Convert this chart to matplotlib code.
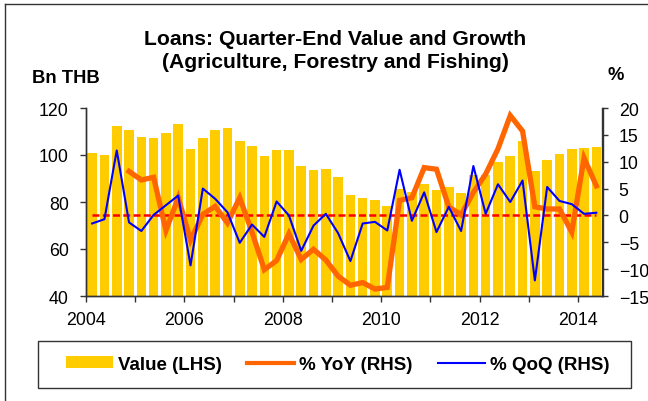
import matplotlib
matplotlib.use("Agg")
import matplotlib.pyplot as plt
from matplotlib.lines import Line2D
from matplotlib.patches import Patch, Rectangle

plt.rcParams['font.family'] = ['Liberation Sans', 'DejaVu Sans']

# quarterly categories, 2004Q1 .. 2014Q2
quarters = [f"{y}Q{q}" for y in range(2004, 2015) for q in range(1, 5)][:42]
year_labels = ['2004', '2006', '2008', '2010', '2012', '2014']

# loans outstanding, Bn THB (LHS)
value = [100.9, 100.1, 112.2, 110.8, 107.5, 107.4, 109.2, 113.0, 102.7, 107.4,
         110.8, 111.5, 105.8, 104.0, 99.7, 102.3, 102.1, 95.5, 93.6, 93.9,
         90.6, 83.0, 81.8, 81.0, 78.4, 85.4, 84.3, 87.8, 85.2, 86.4,
         83.8, 91.6, 91.6, 97.1, 99.4, 105.8, 93.2, 98.0, 100.6, 102.5,
         102.8, 103.4]

# % YoY (RHS), first three quarters not available
yoy = [None, None, None, 8.2, 6.6, 7.1, -2.8, 3.3, -4.6, 0.2,
       1.7, -1.4, 3.3, -3.1, -10.1, -8.4, -3.4, -8.2, -6.3, -8.3,
       -11.3, -13.0, -12.5, -13.7, -13.4, 2.8, 3.3, 8.9, 8.6, 1.6,
       0.1, 4.3, 7.7, 12.4, 18.6, 15.7, 1.6, 1.2, 1.2, -3.1,
       10.7, 5.5]

# % QoQ (RHS)
qoq = [-1.5, -0.7, 12.1, -1.3, -2.9, 0.1, 1.9, 3.7, -9.3, 5.0,
       3.1, 0.6, -5.1, -1.7, -4.0, 2.6, 0.0, -6.6, -1.9, 0.3,
       -3.3, -8.5, -1.5, -1.2, -2.8, 8.5, -1.0, 4.3, -3.1, 1.6,
       -2.9, 9.2, 0.3, 5.8, 2.5, 6.5, -12.1, 5.3, 2.7, 2.1,
       0.3, 0.5]

x = [i + 0.5 for i in range(len(quarters))]
zero = [0] * len(quarters)

W, H = 648, 402
fig = plt.figure(figsize=(W / 100, H / 100), dpi=100)
ax = fig.add_axes([86 / W, 105 / H, (602.5 - 86) / W, 188 / H])
ax2 = ax.twinx()

ax.bar(x, value, width=0.78, color='#FFCC00', zorder=2)
ax.set_xlim(0, len(quarters))
ax.set_ylim(40, 120)
ax.set_yticks([40, 60, 80, 100, 120])

ax2.plot(x, zero, color='#FF0000', lw=1.8, ls=(0, (2.8, 1.3)))
ax2.plot(x, yoy, color='#FF6600', lw=3.8, solid_joinstyle='miter')
ax2.plot(x, qoq, color='#0000FF', lw=1.5)
ax2.set_ylim(-15, 20)
ax2.set_yticks(range(-15, 21, 5))

ax.set_xticks(range(0, 41, 4))
ax.set_xticklabels([year_labels[k // 2] if k % 2 == 0 else '' for k in range(11)])

fs = 12.8
spine_col = '#333333'
for a in (ax, ax2):
    a.spines['top'].set_visible(False)
    for s in ('left', 'right', 'bottom'):
        a.spines[s].set_color(spine_col)
        a.spines[s].set_linewidth(1.0)
    a.tick_params(direction='out', length=4.5, width=1.0, color=spine_col,
                  labelsize=fs, labelcolor='black')
ax.tick_params(axis='y', pad=8)
ax.tick_params(axis='x', pad=6)
ax2.tick_params(axis='y', pad=7.2)

title_font = dict(fontsize=15.2, fontweight='bold', ha='center', va='baseline')
fig.text(335 / W, 1 - 45 / H, 'Loans: Quarter-End Value and Growth', **title_font)
fig.text(335 / W, 1 - 68 / H, '(Agriculture, Forestry and Fishing)', **title_font)
fig.text(31.5 / W, 1 - 83.3 / H, 'Bn THB', fontsize=13.2, fontweight='bold', va='baseline')
fig.text(608 / W, 1 - 80 / H, '%', fontsize=13.2, fontweight='bold', va='baseline')

handles = [Patch(facecolor='#FFCC00', edgecolor='none'),
           Line2D([], [], color='#FF6600', lw=3),
           Line2D([], [], color='#0000FF', lw=1.5)]
labels = ['Value (LHS)', '% YoY (RHS)', '% QoQ (RHS)']
fig.legend(handles, labels, loc='center', ncol=3,
           bbox_to_anchor=(337.5 / W, 1 - 365.4 / H),
           frameon=False, prop={'size': 13.5, 'weight': 'bold'},
           handlelength=2.5, handleheight=0.6, handletextpad=0.27,
           columnspacing=1.35, borderpad=0, borderaxespad=0)
fig.add_artist(Rectangle((37.7 / W, 1 - 389 / H), (631 - 37.7) / W, 47.3 / H,
                         transform=fig.transFigure, fill=False,
                         edgecolor=spine_col, lw=1.0))

# outer frame (only top and left edges are visible in the original)
fig.add_artist(Line2D([5 / W, 5 / W], [0, 1 - 5 / H], transform=fig.transFigure,
                      color=spine_col, lw=1.0))
fig.add_artist(Line2D([5 / W, 1], [1 - 5 / H, 1 - 5 / H], transform=fig.transFigure,
                      color=spine_col, lw=1.0))

fig.savefig('out.png', dpi=100)
